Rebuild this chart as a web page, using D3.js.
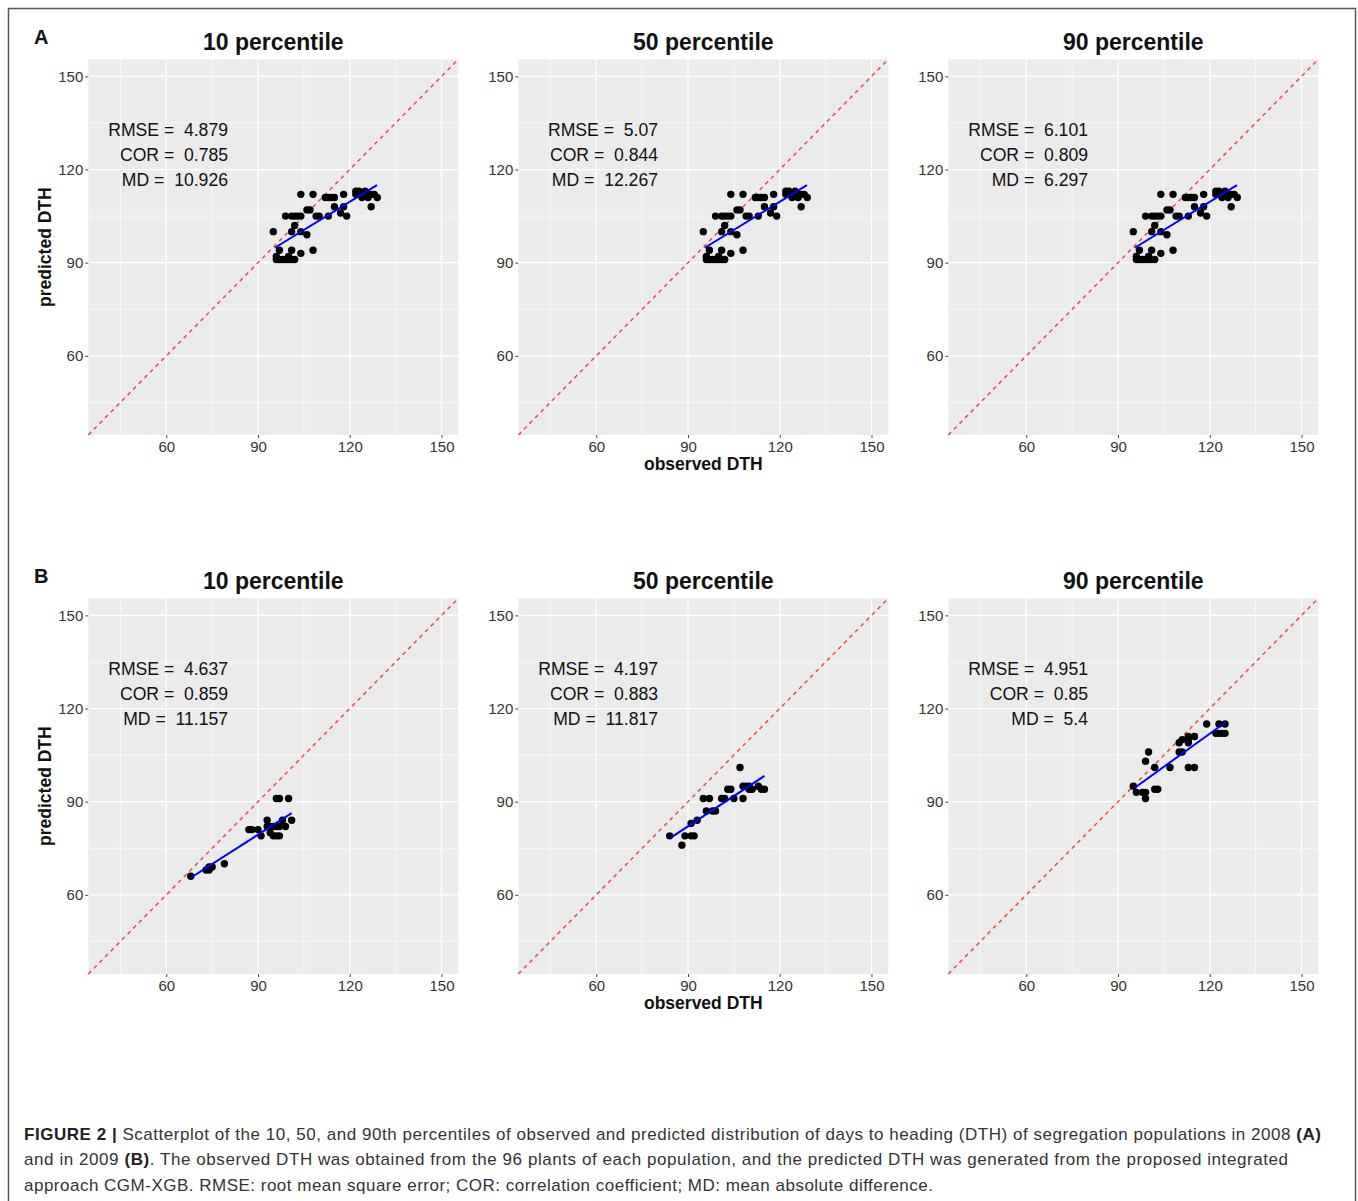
<!DOCTYPE html>
<html lang="en">
  <head>
    <meta charset="utf-8">
    <title>Figure 2 DTH scatterplots</title>
    <script src="https://d3js.org/d3.v7.js"></script>
    <style>
      body { margin: 0; background: #fff; }
      text { font-family: Arial, "Liberation Sans", sans-serif; }
    </style>
  </head>
  <body>
    <script>
    // panel titles, row letters and stats
    var titles = ["10 percentile", "50 percentile", "90 percentile"];
    var rowLetters = ["A", "B"];
    var rmse = [["4.879", "5.07", "6.101"], ["4.637", "4.197", "4.951"]];
    var cor  = [["0.785", "0.844", "0.809"], ["0.859", "0.883", "0.85"]];
    var md   = [["10.926", "12.267", "6.297"], ["11.157", "11.817", "5.4"]];

    var majorTicks = [60, 90, 120, 150];
    var minorTicks = [45, 75, 105, 135];

    // 2008 (A): the three panels show the same points
    var obs2008  = [104,108,112,113,114,115,118,122,123,123,124,124,125,126,126,127,128,129,122,127,115,118,117,119,113,110,109,106,107,99,101,102,103,104,102,101,104,106,95,97,101,104,108,96,97,98,99,100,101,102,96,100];
    var pred2008 = [112,112,111,111,111,111,112,113,112,113,112,111,113,112,111,112,112,111,112,108,108,108,106,105,105,105,105,107,107,105,105,105,105,105,102,100,100,99,100,94,94,93,94,91,91,91,91,91,91,91,92,92];

    // 2009 (B)
    var obs2009_10  = [96,97,100,93,98,101,87,88,90,91,93,94,95,96,97,99,94,95,96,97,79,73,74,74,75,68];
    var pred2009_10 = [91,91,91,84,84,84,81,81,81,79,82,82,82,82,82,82,80,79,79,79,70,68,68,69,69,66];
    var obs2009_50  = [107,103,104,108,109,110,110,111,113,114,115,108,105,101,102,95,97,96,98,99,91,93,84,89,91,92,88];
    var pred2009_50 = [101,94,94,95,95,95,94,94,95,94,94,91,91,91,91,91,91,87,87,87,83,84,79,79,79,79,76];
    var obs2009_90  = [119,123,125,122,123,124,125,110,111,113,113,113,115,110,111,100,99,102,107,113,115,95,96,98,99,99,102,103];
    var pred2009_90 = [115,115,115,112,112,112,112,109,110,111,110,109,111,106,106,106,103,101,101,101,101,95,93,93,93,91,94,94];

    // fitted lines (end points)
    var fit2008X = [95.5, 128.9], fit2008Y = [94.8, 115];
    var fit10X = [68, 101],       fit10Y = [65.5, 86.3];
    var fit50X = [84, 115],       fit50Y = [78.2, 98.3];
    var fit90X = [95.5, 125.2],   fit90Y = [94.5, 115.6];

    var panels = [
      [{obs: obs2008, pred: pred2008, fx: fit2008X, fy: fit2008Y},
       {obs: obs2008, pred: pred2008, fx: fit2008X, fy: fit2008Y},
       {obs: obs2008, pred: pred2008, fx: fit2008X, fy: fit2008Y}],
      [{obs: obs2009_10, pred: pred2009_10, fx: fit10X, fy: fit10Y},
       {obs: obs2009_50, pred: pred2009_50, fx: fit50X, fy: fit50Y},
       {obs: obs2009_90, pred: pred2009_90, fx: fit90X, fy: fit90Y}]
    ];

    var W = 1358, H = 1201;
    var pw = 370, ph = 375.7;
    var px0 = 88.3, py0 = 59.3, dx = 430, dy = 539;

    var svg = d3.select("body").append("svg")
      .attr("width", W)
      .attr("height", H);

    // outer frame
    svg.append("rect")
      .attr("x", 8.5).attr("y", 8.5)
      .attr("width", 1347).attr("height", 1205)
      .attr("fill", "none")
      .attr("stroke", "#555")
      .attr("stroke-width", 1.5);

    var x = d3.scaleLinear().domain([34.5, 155.5]).range([0, pw]);
    var y = d3.scaleLinear().domain([34.5, 155.5]).range([ph, 0]);

    panels.forEach(function(row, r) {
      svg.append("text")
        .attr("x", 34).attr("y", 43.5 + r * dy)
        .attr("font-size", "20px")
        .attr("font-weight", "bold")
        .attr("fill", "#111")
        .text(rowLetters[r]);

      row.forEach(function(p, c) {
        var g = svg.append("g")
          .attr("transform", "translate(" + (px0 + c * dx) + "," + (py0 + r * dy) + ")");

        g.append("text")
          .attr("x", pw / 2).attr("y", -9.5)
          .attr("text-anchor", "middle")
          .attr("font-size", "23px")
          .attr("font-weight", "bold")
          .attr("fill", "#111")
          .text(titles[c]);

        g.append("rect")
          .attr("width", pw).attr("height", ph)
          .attr("fill", "#EBEBEB");

        g.selectAll("line.minx").data(minorTicks).enter().append("line")
          .attr("x1", d => x(d)).attr("x2", d => x(d))
          .attr("y1", 0).attr("y2", ph)
          .attr("stroke", "#fff").attr("stroke-width", 0.6);
        g.selectAll("line.miny").data(minorTicks).enter().append("line")
          .attr("y1", d => y(d)).attr("y2", d => y(d))
          .attr("x1", 0).attr("x2", pw)
          .attr("stroke", "#fff").attr("stroke-width", 0.6);
        g.selectAll("line.majx").data(majorTicks).enter().append("line")
          .attr("x1", d => x(d)).attr("x2", d => x(d))
          .attr("y1", 0).attr("y2", ph)
          .attr("stroke", "#fff").attr("stroke-width", 1.2);
        g.selectAll("line.majy").data(majorTicks).enter().append("line")
          .attr("y1", d => y(d)).attr("y2", d => y(d))
          .attr("x1", 0).attr("x2", pw)
          .attr("stroke", "#fff").attr("stroke-width", 1.2);

        // axes
        var ax = g.append("g")
          .attr("transform", "translate(0," + ph + ")")
          .call(d3.axisBottom(x).tickValues(majorTicks).tickSize(3).tickPadding(3));
        var ay = g.append("g")
          .call(d3.axisLeft(y).tickValues(majorTicks).tickSize(3).tickPadding(2));
        [ax, ay].forEach(function(a) {
          a.select(".domain").remove();
          a.selectAll(".tick line").attr("stroke", "#444");
          a.selectAll(".tick text")
            .attr("font-size", "15px")
            .attr("font-family", "Arial, 'Liberation Sans', sans-serif")
            .attr("fill", "#333");
        });

        // y = x reference
        g.append("line")
          .attr("x1", x(34.5)).attr("y1", y(34.5))
          .attr("x2", x(155.5)).attr("y2", y(155.5))
          .attr("stroke", "#F04848")
          .attr("stroke-width", 1.5)
          .attr("stroke-dasharray", "4,4");

        // points
        g.selectAll("circle").data(p.obs).enter().append("circle")
          .attr("cx", d => x(d))
          .attr("cy", (d, i) => y(p.pred[i]))
          .attr("r", 3.7)
          .attr("fill", "#000");

        // fitted line
        g.append("line")
          .attr("x1", x(p.fx[0])).attr("y1", y(p.fy[0]))
          .attr("x2", x(p.fx[1])).attr("y2", y(p.fy[1]))
          .attr("stroke", "#0000FF")
          .attr("stroke-width", 2);

        // stats text
        var lines = ["RMSE =  " + rmse[r][c], "COR =  " + cor[r][c], "MD =  " + md[r][c]];
        g.selectAll("text.stat").data(lines).enter().append("text")
          .attr("class", "stat")
          .attr("x", 139.7)
          .attr("y", (d, i) => 76.7 + i * 24.9)
          .attr("text-anchor", "end")
          .attr("font-size", "17.6px")
          .attr("fill", "#111")
          .style("white-space", "pre")
          .text(d => d);

        if (c === 0) {
          g.append("text")
            .attr("transform", "translate(-37," + (ph / 2) + ") rotate(-90)")
            .attr("text-anchor", "middle")
            .attr("font-size", "17.5px")
            .attr("font-weight", "bold")
            .attr("fill", "#111")
            .text("predicted DTH");
        }
        if (c === 1) {
          g.append("text")
            .attr("x", pw / 2).attr("y", ph + 35.5)
            .attr("text-anchor", "middle")
            .attr("font-size", "17.5px")
            .attr("font-weight", "bold")
            .attr("fill", "#111")
            .text("observed DTH");
        }
      });
    });

    // caption
    var caption = [
      [["FIGURE 2 | ", true], ["Scatterplot of the 10, 50, and 90th percentiles of observed and predicted distribution of days to heading (DTH) of segregation populations in 2008 ", false], ["(A)", true]],
      [["and in 2009 ", false], ["(B)", true], [". The observed DTH was obtained from the 96 plants of each population, and the predicted DTH was generated from the proposed integrated", false]],
      [["approach CGM-XGB. RMSE: root mean square error; COR: correlation coefficient; MD: mean absolute difference.", false]]
    ];
    var capWidths = [1297, 1264, 909];

    caption.forEach(function(segs, i) {
      var t = svg.append("text")
        .attr("x", 24)
        .attr("y", 1139.5 + i * 25.5)
        .attr("font-size", "17px")
        .attr("fill", "#333")
        .attr("textLength", capWidths[i])
        .attr("lengthAdjust", "spacing")
        .style("white-space", "pre");
      segs.forEach(function(s) {
        t.append("tspan")
          .attr("font-weight", s[1] ? "bold" : "normal")
          .attr("fill", s[1] ? "#222" : "#333")
          .text(s[0]);
      });
    });
    </script>
  </body>
</html>
